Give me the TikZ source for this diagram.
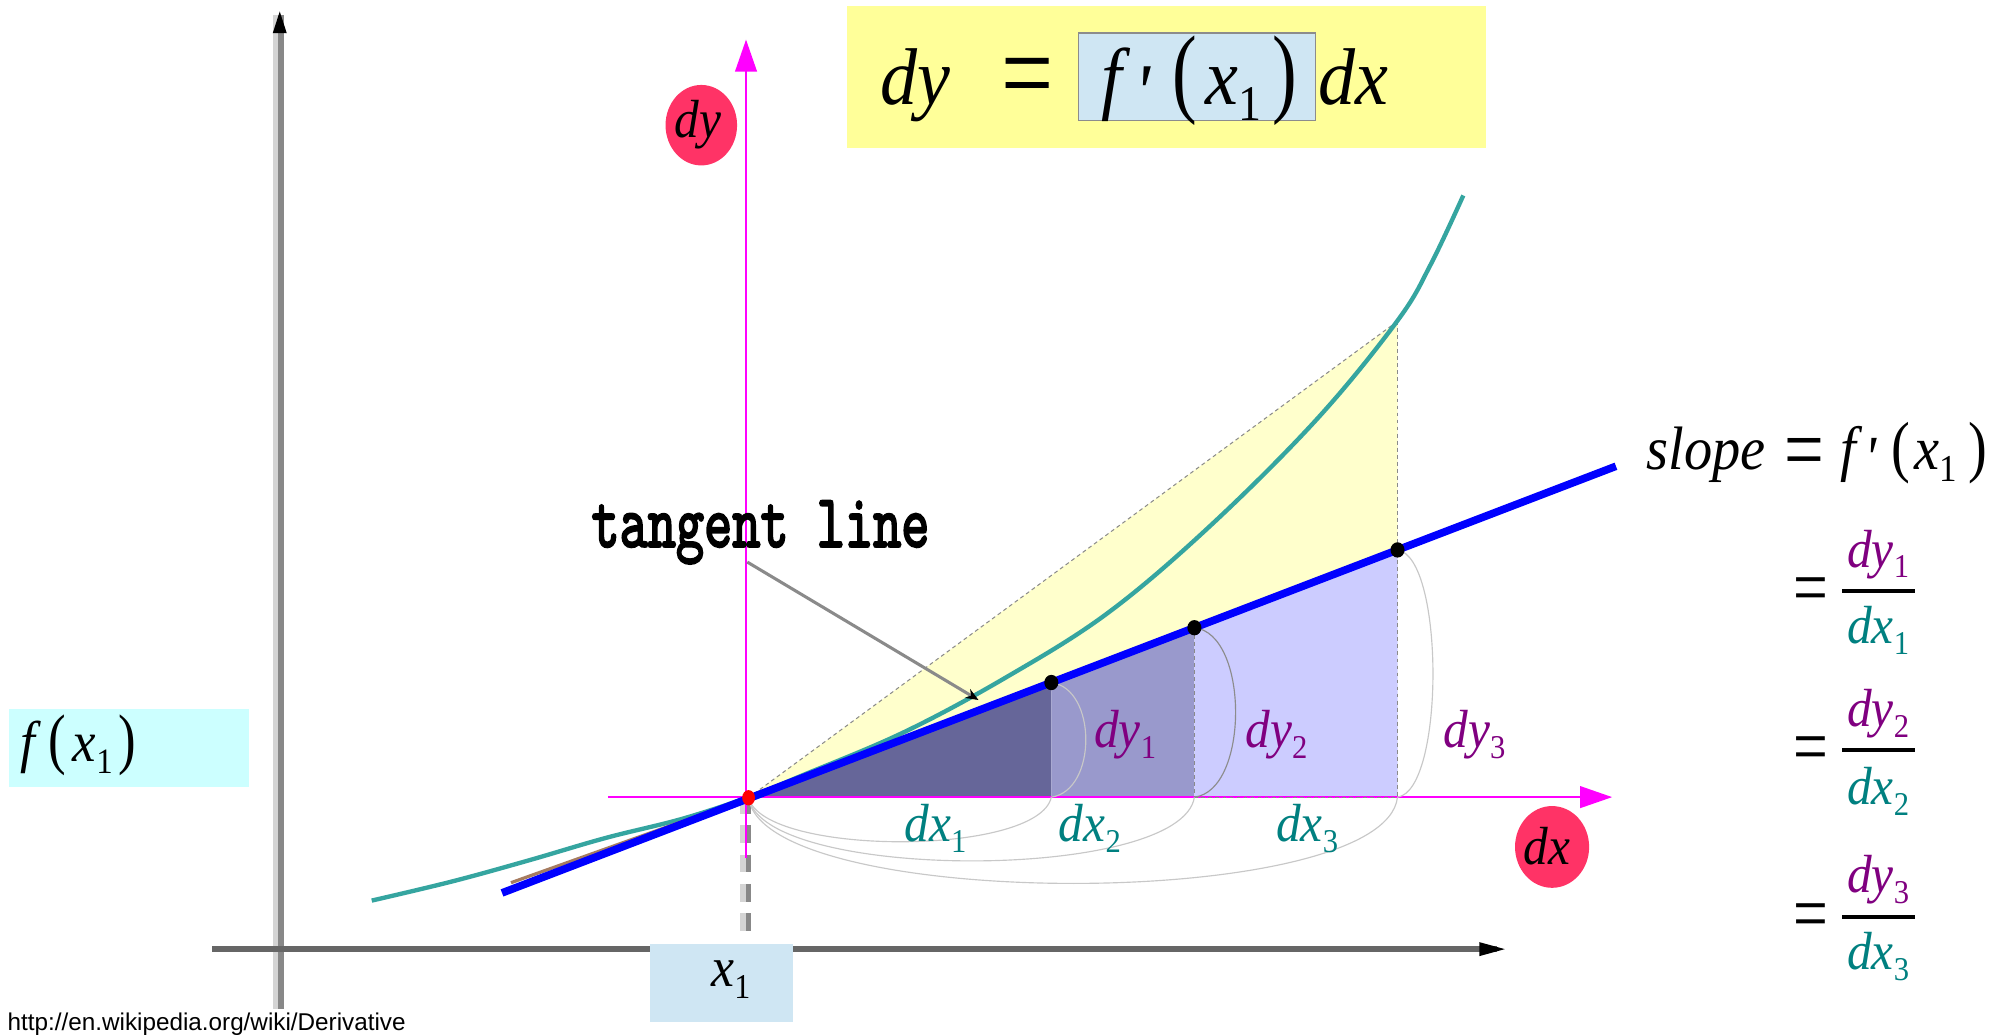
\documentclass[tikz,border=0pt]{standalone}
\usepackage{fontspec}
\usepackage{graphicx}
\usetikzlibrary{arrows.meta}
\setmainfont{Liberation Serif}
\newfontfamily\dfont{Liberation Serif}[FakeStretch=0.92]
\newfontfamily\urlf{Liberation Sans}
\newfontfamily\tlfont{lmmono10-regular}[Extension=.otf,FakeBold=3]
\newcommand\sbs[1]{\raisebox{-0.2em}{\scalebox{0.62}{\upshape #1}}}
\newcommand\tpar[2]{\scalebox{1}[#1]{\upshape #2}}
\newcommand\eqs{\scalebox{1.25}[1.5]{\upshape =}}
\definecolor{tealc}{HTML}{008080}
\definecolor{purpc}{HTML}{800080}
\definecolor{curvec}{HTML}{35A5A0}
\definecolor{magc}{HTML}{FF00FF}
\definecolor{redc}{HTML}{FF3366}
\definecolor{yelc}{HTML}{FFFFCC}
\definecolor{titley}{HTML}{FFFF99}
\definecolor{boxblue}{HTML}{CFE6F3}
\definecolor{cyanbox}{HTML}{CCFFFF}
\definecolor{dkp}{HTML}{666699}
\definecolor{mdp}{HTML}{9999CC}
\definecolor{ltp}{HTML}{CCCCFF}
\definecolor{brownc}{HTML}{A67C60}
\definecolor{axl}{HTML}{D4D4D4}
\definecolor{axd}{HTML}{888888}
\definecolor{axx}{HTML}{666666}
\definecolor{arcl}{HTML}{C8C8C8}
\definecolor{arcd}{HTML}{8C8C8C}
\definecolor{dashc}{HTML}{8A8A8A}
\definecolor{bluec}{HTML}{0000FF}
\begin{document}
\begin{tikzpicture}[x=1pt,y=-1pt,
  txt/.style={inner sep=0pt,outer sep=0pt,anchor=base west},
  big/.style={font=\dfont\itshape\fontsize{63}{63}\selectfont},
  bigup/.style={font=\dfont\fontsize{63}{63}\selectfont},
  mid/.style={font=\dfont\itshape\fontsize{48}{48}\selectfont},
  midup/.style={font=\dfont\fontsize{48}{48}\selectfont},
  lab/.style={font=\dfont\itshape\fontsize{42}{42}\selectfont},
  labup/.style={font=\dfont\fontsize{42}{42}\selectfont},
  fxl/.style={font=\dfont\itshape\fontsize{45}{45}\selectfont},
  fxlup/.style={font=\dfont\fontsize{45}{45}\selectfont},
  arcg/.style={draw=arcl,line width=0.9pt},
  dashg/.style={draw=dashc,line width=0.8pt,dash pattern=on 3pt off 2.5pt},
  dotb/.style={fill=black},
]
\useasboundingbox (0,0) rectangle (1568,810);
\fill[white] (0,0) rectangle (1568,810);

% key points
\coordinate (O) at (586,624.5);
\coordinate (P1) at (823,534.3);
\coordinate (P2) at (935,491.4);
\coordinate (P3) at (1094,430.5);
\coordinate (Q1) at (823,624);
\coordinate (Q2) at (935,624);
\coordinate (Q3) at (1094,624);
\coordinate (J) at (1094,251.5);

% gray coordinate axes
\draw[axl,line width=4.7pt] (215.7,12) -- (215.7,790);
\draw[axd,line width=4.7pt] (220.3,12) -- (220.3,790);
\fill[black] (219,9) -- (224.5,26) -- (213.5,26) -- cycle;
\draw[axx,line width=4.5pt] (166,743) -- (1172,743);
\fill[black] (1178,743) -- (1158,737.5) -- (1158,748.5) -- cycle;

% dashed drop line to x1
\draw[axl,line width=4.5pt,dash pattern=on 14pt off 9pt] (581.5,623) -- (581.5,738);
\draw[axd,line width=4.5pt,dash pattern=on 14pt off 9pt] (586,623) -- (586,738);

% boxes
\fill[cyanbox] (7,555) rectangle (194.7,616.4);
\fill[boxblue] (509,739) rectangle (620.4,799.7);
\fill[titley] (663,5) rectangle (1163,116);
\filldraw[fill=boxblue,draw=arcd,line width=1pt] (844.5,25.8) rectangle (1029.7,94.6);

% regions
\fill[yelc] (O) -- (J) -- (P3) -- cycle;
\fill[dkp] (O) -- (P1) -- (Q1) -- cycle;
\fill[mdp] (P1) -- (P2) -- (Q2) -- (Q1) -- cycle;
\fill[ltp] (P2) -- (P3) -- (Q3) -- (Q2) -- cycle;

% magenta axes
\draw[magc,line width=1.3pt,-{Triangle[length=25pt,width=17pt]}] (584,672) -- (584,31);
\draw[magc,line width=1.3pt,-{Triangle[length=25pt,width=17pt]}] (476,624) -- (1262,624);

% dashed guides
\draw[dashg] (O) -- (J);
\draw[dashg] (J) -- (Q3);
\draw[dashg] (P2) -- (Q2);
\draw[dashg] (Q2) -- (Q3);

% arcs
\draw[arcg] (O) .. controls (598,670.5) and (813,670.5) .. (Q1);
\draw[arcg] (O) .. controls (598,690.5) and (925,690.5) .. (Q2);
\draw[arcg] (O) .. controls (598,714) and (1084,714) .. (Q3);
\draw[arcg] (P1) .. controls (859,539) and (859,619) .. (Q1);
\draw[draw=arcd,line width=0.9pt] (P2) .. controls (978,496) and (978,619) .. (Q2);
\draw[arcg] (P3) .. controls (1131,436) and (1131,619) .. (Q3);

% the curve
\draw[curvec,line width=3.4pt] plot[smooth,tension=0.6] coordinates {
 (291,705) (354,690) (414,673.5) (474,656) (534,641) (586,624) (628,607)
 (708,573) (788,530) (867,480) (947,412) (1031,328) (1094,251)
 (1120,207) (1145.5,153)};

% tangent line
\draw[brownc,line width=2.5pt] (400,691) -- (586,624.5);
\draw[bluec,line width=6pt] (393,699) -- (1265,365);

% dots
\fill[dotb] (P1) ellipse [x radius=5.5pt,y radius=6pt];
\fill[dotb] (P2) ellipse [x radius=5.5pt,y radius=6pt];
\fill[dotb] (P3) ellipse [x radius=5.5pt,y radius=6pt];
\fill[red] (O) ellipse [x radius=5pt,y radius=6pt];

% tangent line label and pointer
\node[txt,font=\tlfont\fontsize{42}{42}\selectfont] (tl) at (463,428) {\scalebox{1}[1.4]{tangent line}};
\coordinate (tlA) at (585,440);
\coordinate (tlB) at (766,548);
\draw[dashc,line width=2.4pt,-{Stealth[length=10pt,width=8pt,black]}] (tlA) -- (tlB);

% red ellipses
\fill[redc] (549,98) ellipse [x radius=28pt,y radius=31.5pt];
\node[txt,lab] (dyc) at (528,107.6) {dy};
\fill[redc] (1215,663) ellipse [x radius=29pt,y radius=32pt];
\node[txt,lab] (dxc) at (1193,677) {dx};

% title formula
\node[txt,big] (tdy) at (689,81.6) {dy};
\node[txt,bigup] (teq) at (784,89) {\eqs};
\node[txt,big] (tf) at (862,81.6) {f};
\node[inner sep=0pt,anchor=north,big] (tpr) at (895,52) {\textquotesingle};
\node[txt,bigup] (tlp) at (918,81.6) {\tpar{1.23}{(}};
\node[txt,big] (tx) at (944,81.6) {x\sbs{1}};
\node[txt,bigup] (trp) at (996,81.6) {\tpar{1.23}{)}};
\node[txt,big] (tdx) at (1032,81.6) {dx};

% slope formula
\node[txt,mid] (sl) at (1289,367.5) {slope};
\node[txt,midup] (seq) at (1397,376) {\eqs};
\node[txt,mid] (sf) at (1441,367.5) {f};
\node[inner sep=0pt,anchor=north,mid] (spr) at (1465,343) {\textquotesingle};
\node[txt,midup] (slp) at (1481,367.5) {\tpar{1.11}{(}};
\node[txt,mid] (sx) at (1499,367.5) {x\sbs{1}};
\node[txt,midup] (srp) at (1541,367.5) {\tpar{1.11}{)}};

% fractions
\node[txt,labup] (eqa) at (1404,480.7) {\eqs};
\draw[line width=3pt] (1442,462.7) -- (1499,462.7);
\node[txt,lab,text=purpc] (nya) at (1446,444) {dy\sbs{1}};
\node[txt,lab,text=tealc] (dxa) at (1446,504) {dx\sbs{1}};
\node[txt,labup] (eqb) at (1404,605.3) {\eqs};
\draw[line width=3pt] (1442,587.3) -- (1499,587.3);
\node[txt,lab,text=purpc] (nyb) at (1446,568.7) {dy\sbs{2}};
\node[txt,lab,text=tealc] (dxb) at (1446,629.7) {dx\sbs{2}};
\node[txt,labup] (eqc) at (1404,736) {\eqs};
\draw[line width=3pt] (1442,718) -- (1499,718);
\node[txt,lab,text=purpc] (nyc) at (1446,699) {dy\sbs{3}};
\node[txt,lab,text=tealc] (dxd) at (1446,759) {dx\sbs{3}};

% increments
\node[txt,lab,text=tealc] (ldx1) at (708,658.7) {dx\sbs{1}};
\node[txt,lab,text=tealc] (ldx2) at (829,658.7) {dx\sbs{2}};
\node[txt,lab,text=tealc] (ldx3) at (999,658.7) {dx\sbs{3}};
\node[txt,lab,text=purpc] (ldy1) at (856.6,585) {dy\sbs{1}};
\node[txt,lab,text=purpc] (ldy2) at (975,585) {dy\sbs{2}};
\node[txt,lab,text=purpc] (ldy3) at (1130,585) {dy\sbs{3}};

% f(x1) and x1
\node[txt,fxl] (ff) at (16,596.3) {f};
\node[txt,fxlup] (flp) at (38,596.3) {\tpar{1.17}{(}};
\node[txt,fxl] (fx) at (57,596.3) {x\sbs{1}};
\node[txt,fxlup] (frp) at (93,596.3) {\tpar{1.17}{)}};
\node[txt,font=\dfont\itshape\fontsize{44}{44}\selectfont] (bx) at (557,772.6) {x\sbs{1}};

% source
\node[txt,font=\urlf\fontsize{19}{19}\selectfont] (url) at (6,806.8) {http://en.wikipedia.org/wiki/Derivative};
\end{tikzpicture}
\end{document}
